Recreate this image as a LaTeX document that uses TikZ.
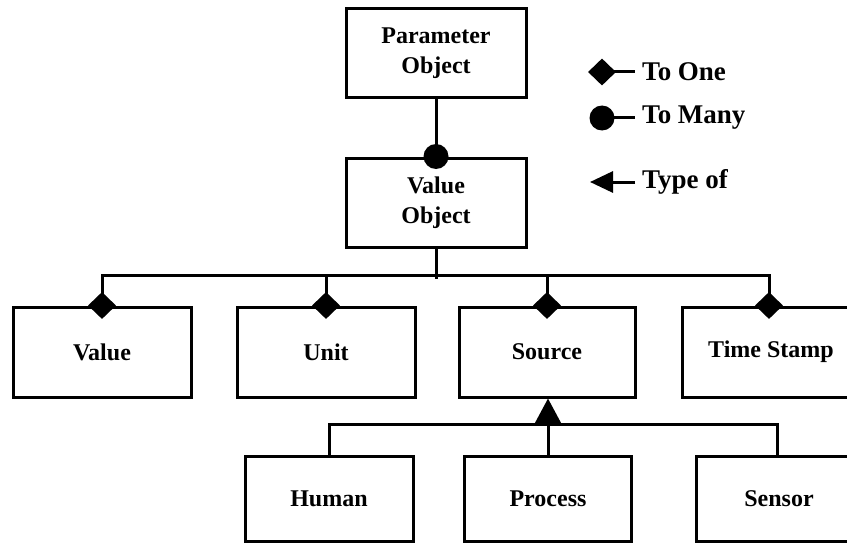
\documentclass[tikz,border=0pt]{standalone}
\usepackage{fontspec}
\setmainfont{Liberation Serif}
\usetikzlibrary{shapes.geometric,arrows.meta}
\begin{document}
\begin{tikzpicture}[x=1pt,y=-1pt,
  box/.style={draw=black,line width=3pt,fill=white,inner sep=0pt,align=center,
    font=\fontsize{24}{30}\selectfont\bfseries},
  conn/.style={line width=3pt},
  diam/.style={diamond,fill=black,inner sep=0pt,minimum width=28pt,minimum height=27pt},
  dot/.style={circle,fill=black,inner sep=0pt,minimum size=25pt},
  legtext/.style={anchor=west,inner sep=0pt,font=\fontsize{27}{32}\selectfont\bfseries}
]
\useasboundingbox (0,0) rectangle (847,543);
% boxes
\node[box,minimum width=180pt,minimum height=89pt] (param) at (436,53.5) {Parameter\\Object};
\node[box,minimum width=180pt,minimum height=89pt] (vobj) at (436,202.5) {Value\\Object};
\node[box,minimum width=178pt,minimum height=90pt] (value) at (102,352) {Value};
\node[box,minimum width=178pt,minimum height=90pt] (unit) at (326,352) {Unit};
\node[box,minimum width=176pt,minimum height=90pt] (source) at (547,352) {Source};
\node[box,minimum width=178pt,minimum height=90pt] (time) at (771,352) {Time Stamp};
\node[box,minimum width=168pt,minimum height=85pt] (human) at (329,498.5) {Human};
\node[box,minimum width=167pt,minimum height=85pt] (process) at (548,498.5) {Process};
\node[box,minimum width=166pt,minimum height=85pt] (sensor) at (779,498.5) {Sensor};
% connectors
\draw[conn] (param.south) -- (vobj.north);
\node[dot] at (vobj.north) {};
\draw[conn] (vobj.south) -- ++(0,30);
\draw[conn] (value.north) -- ++(0,-30) -| ([xshift=-2pt]time.north);
\draw[conn] (unit.north) -- ++(0,-30);
\draw[conn] (source.north) -- ++(0,-30);
\node[diam] at (value.north) {};
\node[diam] at (unit.north) {};
\node[diam] at (source.north) {};
\node[diam] at ([xshift=-2pt]time.north) {};
\draw[conn] (human.north) -- ++(0,-30) -| ([xshift=-2pt]sensor.north);
\draw[conn,-{Triangle[length=26pt,width=27pt]}] (process.north) -- (process.north |- source.south);
% legend
\node[diam] (ld) at (602,72) {};
\coordinate (e1) at (635,72);
\draw[conn] (ld.center) -- (e1);
\node[legtext] (t1) at (642,72) {To One};
\node[dot] (lc) at (602,118) {};
\coordinate (e2) at (635,118);
\draw[conn] (lc.center) -- (e2);
\node[legtext] (t2) at (642,118) {To Many};
\coordinate (la) at (590,182);
\coordinate (e3) at (635,182);
\draw[conn,-{Triangle[length=23pt,width=21pt]}] (e3) -- (la);
\node[legtext] (t3) at (642,182) {Type of};
\end{tikzpicture}
\end{document}
